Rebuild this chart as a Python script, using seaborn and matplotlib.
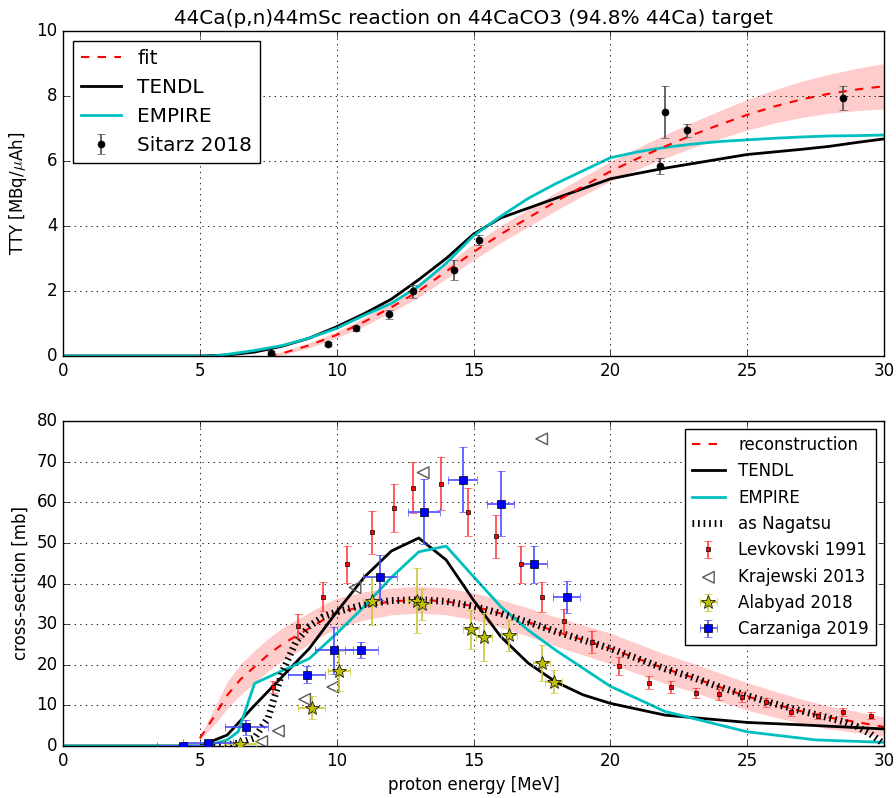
import matplotlib
matplotlib.use("Agg")
import matplotlib.pyplot as plt
import seaborn as sns

# ---------------- top panel data (thick target yield) ----------------
fit_E = [7.5, 8, 9, 10, 11, 12, 13, 14, 15, 16, 17, 18, 19, 20, 21, 22, 23, 24, 25, 26, 27, 28, 29, 30]
fit_tty = [0.0, 0.08, 0.33, 0.65, 1.05, 1.5, 2.0, 2.6, 3.2, 3.75, 4.25, 4.75, 5.22, 5.68,
           6.08, 6.45, 6.8, 7.12, 7.42, 7.68, 7.9, 8.07, 8.2, 8.3]
fit_hw = [0.03, 0.05, 0.08, 0.1, 0.13, 0.16, 0.19, 0.22, 0.25, 0.26, 0.27, 0.28, 0.29, 0.3,
          0.33, 0.36, 0.39, 0.43, 0.47, 0.51, 0.56, 0.6, 0.65, 0.7]

tendl_top_E = [0, 5, 6, 7, 8, 9, 10, 11, 12, 13, 14, 15, 16, 17, 18, 19, 20, 21, 22, 23, 24, 25, 26, 27, 28, 29, 30]
tendl_top = [0, 0, 0.03, 0.12, 0.3, 0.55, 0.9, 1.3, 1.75, 2.35, 3.0, 3.75, 4.25, 4.55, 4.85,
             5.15, 5.45, 5.62, 5.78, 5.92, 6.06, 6.2, 6.28, 6.36, 6.45, 6.57, 6.68]

empire_top_E = [0, 5, 5.5, 6, 7, 8, 9, 10, 11, 12, 13, 14, 15, 16, 17, 18, 19, 20, 21, 22, 23, 24, 25, 26, 27, 28, 29, 30]
empire_top = [0, 0, 0.0, 0.05, 0.17, 0.32, 0.55, 0.85, 1.25, 1.62, 2.15, 2.85, 3.7, 4.3, 4.85,
              5.3, 5.7, 6.1, 6.28, 6.42, 6.52, 6.6, 6.65, 6.7, 6.74, 6.77, 6.78, 6.8]

sitarz_E = [7.6, 9.7, 10.7, 11.9, 12.8, 14.3, 15.2, 21.8, 22.0, 22.8, 28.5]
sitarz_tty = [0.1, 0.37, 0.85, 1.28, 2.0, 2.65, 3.57, 5.85, 7.5, 6.95, 7.95]
sitarz_err = [0.05, 0.05, 0.08, 0.15, 0.2, 0.3, 0.15, 0.25, 0.8, 0.2, 0.37]

# ---------------- bottom panel data (cross-section) ----------------
rec_E = [5, 5.5, 6, 6.5, 7, 7.5, 8, 8.5, 9, 9.5, 10, 11, 12, 13, 14, 15, 16, 17, 18, 19, 20,
         21, 22, 23, 24, 25, 26, 27, 28, 29, 30]
rec_xs = [1.9, 7, 12.5, 16.5, 19.5, 22.5, 25, 27, 29, 31, 32.7, 34.5, 35.6, 36, 35.6, 34.4,
          32.6, 30.5, 28.2, 26.1, 24, 21.5, 19, 16.9, 14.5, 12.2, 10.3, 8.5, 7.0, 5.9, 4.7]
rec_hw = [0.3, 2.0, 3.3, 3.8, 4.0, 4.0, 4.0, 4.0, 3.9, 3.8, 3.7, 3.5, 3.3, 3.3, 3.3, 3.3, 3.4,
          3.5, 3.6, 3.7, 3.8, 3.7, 3.6, 3.5, 3.5, 3.4, 3.2, 3.0, 2.8, 2.6, 2.4]

tendl_E = [0, 5, 6, 7, 8, 9, 10, 11, 12, 13, 14, 15, 16, 17, 18, 19, 20, 22, 25, 27, 30]
tendl_xs = [0, 0, 2.7, 10, 17, 24, 33, 41.5, 48, 51.2, 45.8, 35.9, 26.9, 20.4, 15.8, 12.6,
            10.5, 7.6, 5.8, 5.2, 4.2]

empire_E = [0, 5.2, 6, 6.4, 7, 8, 9, 10, 11, 12, 13, 14, 15, 16, 17, 18, 20, 22, 25, 27.5, 30]
empire_xs = [0, 0, 1.5, 3.5, 15.4, 18.5, 21.5, 27.7, 34.3, 41.5, 47.8, 49.2, 41.7, 34.3, 28.5,
             23.6, 14.7, 8.5, 3.5, 1.5, 0.9]

nag_E = [5.5, 6, 6.5, 7, 7.5, 8, 8.5, 9, 9.5, 10, 11, 12, 13, 14, 15, 16, 17, 18, 19, 20, 21,
         22, 23, 24, 25, 26, 27, 28, 28.5, 29, 29.5, 30]
nag_xs = [0, 0.3, 0.8, 2.0, 7, 18, 25.5, 29.5, 31.8, 33, 34.8, 35.8, 36, 35.6, 34.4, 32.6,
          30.5, 28.2, 26.1, 24, 21.5, 19, 16.9, 14.5, 12.4, 10.4, 8.6, 6.9, 6.0, 4.8, 3.0, 0.5]

lev_E = [7.68, 8.6, 9.49, 10.39, 11.3, 12.09, 12.79, 13.81, 14.79, 15.81, 16.72, 17.51, 18.32,
         19.32, 20.33, 21.41, 22.2, 23.12, 23.97, 24.8, 25.69, 26.6, 27.6, 28.5, 29.52]
lev_xs = [14.5, 29.6, 36.8, 44.7, 52.6, 58.7, 63.6, 64.6, 57.7, 51.6, 44.7, 36.6, 30.8, 25.5,
          19.8, 15.6, 14.6, 13.0, 12.7, 12.1, 10.8, 8.4, 7.4, 8.4, 7.5]
lev_err = [1.5, 3.0, 3.6, 4.5, 5.3, 5.9, 6.3, 6.5, 5.9, 5.2, 4.5, 3.7, 3.0, 2.7, 2.2, 1.6, 1.5,
           1.3, 1.3, 1.2, 1.1, 0.9, 0.8, 0.9, 0.8]

kra_E = [7.26, 7.87, 8.83, 9.86, 10.67, 13.16, 17.49]
kra_xs = [1.1, 3.7, 11.5, 14.5, 39.0, 67.3, 75.6]

ala_E = [6.47, 9.09, 10.1, 11.28, 12.92, 13.1, 14.9, 15.38, 16.3, 17.49, 17.93]
ala_xs = [0.6, 9.4, 18.5, 35.6, 35.8, 34.9, 28.7, 26.8, 27.3, 20.4, 15.8]
ala_yerr = [0.5, 2.8, 5.0, 5.9, 7.9, 3.8, 4.8, 5.9, 3.8, 4.5, 2.8]
ala_xerr = [0.6, 0.49, 0.4, 0.3, 0.3, 0.3, 0.3, 0.3, 0.3, 0.3, 0.3]

car_E = [4.4, 5.3, 6.7, 8.9, 9.9, 10.9, 11.6, 13.2, 14.6, 16.0, 17.2, 18.4]
car_xs = [0.1, 0.7, 4.6, 17.6, 23.6, 23.6, 41.5, 57.7, 65.5, 59.6, 44.7, 36.6]
car_yerr = [0.3, 0.4, 1.8, 2.0, 5.8, 1.9, 5.5, 8.0, 8.0, 8.0, 4.5, 3.9]
car_xerr = [0.95, 0.9, 0.78, 0.67, 0.7, 0.6, 0.62, 0.58, 0.52, 0.49, 0.49, 0.49]

x_ticks = [0, 5, 10, 15, 20, 25, 30]
top_yticks = [0, 2, 4, 6, 8, 10]
bot_yticks = [0, 10, 20, 30, 40, 50, 60, 70, 80]

# ---------------- style ----------------
plt.style.use("classic")
plt.rcParams["lines.scale_dashes"] = False
plt.rcParams["font.family"] = ["DejaVu Sans"]

fig = plt.figure(figsize=(8.96, 7.98), dpi=100, facecolor="white")
ax1 = fig.add_axes([63 / 896, 1 - 356 / 798, 821 / 896, 325 / 798])
ax2 = fig.add_axes([63 / 896, 1 - 746 / 798, 821 / 896, 325 / 798])

# ---------------- top panel ----------------
lo = [f - h for f, h in zip(fit_tty, fit_hw)]
hi = [f + h for f, h in zip(fit_tty, fit_hw)]
ax1.fill_between(fit_E, lo, hi, color="r", alpha=0.2, lw=0, zorder=1)
sns.lineplot(x=fit_E, y=fit_tty, ax=ax1, color="r", linestyle="--", lw=1.5,
             estimator=None, zorder=3)
sns.lineplot(x=tendl_top_E, y=tendl_top, ax=ax1, color="k", lw=2, estimator=None, zorder=2)
sns.lineplot(x=empire_top_E, y=empire_top, ax=ax1, color="c", lw=2, estimator=None, zorder=2)
l_fit, l_tendl, l_emp = ax1.lines[0], ax1.lines[1], ax1.lines[2]
eb_sit = ax1.errorbar(sitarz_E, sitarz_tty, yerr=sitarz_err, fmt="o", color="k", ms=5,
                      ecolor="0.3", capsize=3, elinewidth=1.2, zorder=4)
ax1.legend([l_fit, l_tendl, l_emp, eb_sit], ["fit", "TENDL", "EMPIRE", "Sitarz 2018"],
           loc="upper left", numpoints=1, fontsize=14.4, framealpha=1)

ax1.set_xlim(0, 30)
ax1.set_ylim(0, 10)
ax1.set_xticks(x_ticks)
ax1.set_yticks(top_yticks)
ax1.set_ylabel("TTY [MBq/$\\mu$Ah]", size=12)
ax1.set_xlabel("")
ax1.set_title("44Ca(p,n)44mSc reaction on 44CaCO3 (94.8% 44Ca) target", size=14.4, pad=5)

# ---------------- bottom panel ----------------
rlo = [f - h for f, h in zip(rec_xs, rec_hw)]
rhi = [f + h for f, h in zip(rec_xs, rec_hw)]
ax2.fill_between(rec_E, rlo, rhi, color="r", alpha=0.2, lw=0, zorder=1)
sns.lineplot(x=rec_E, y=rec_xs, ax=ax2, color="r", linestyle="--", lw=1.5,
             estimator=None, zorder=2)
sns.lineplot(x=tendl_E, y=tendl_xs, ax=ax2, color="k", lw=2, estimator=None, zorder=2)
sns.lineplot(x=empire_E, y=empire_xs, ax=ax2, color="c", lw=2, estimator=None, zorder=2)
sns.lineplot(x=nag_E, y=nag_xs, ax=ax2, color="k", lw=5, linestyle=(0, (1.2, 2.8)),
             estimator=None, zorder=3)
b_rec, b_tendl, b_emp, b_nag = ax2.lines[0], ax2.lines[1], ax2.lines[2], ax2.lines[3]

eb_lev = ax2.errorbar(lev_E, lev_xs, yerr=lev_err, fmt="s", color="r", mec="k", mew=0.5,
                      ms=3.5, ecolor=(1, 0.25, 0.25), capsize=3, elinewidth=1.2, zorder=5)
kra = ax2.scatter(kra_E, kra_xs, marker="<", s=70, facecolors="none", edgecolors="0.35",
                  linewidths=1, zorder=5)
eb_ala = ax2.errorbar(ala_E, ala_xs, yerr=ala_yerr, xerr=ala_xerr, fmt="*", color="y",
                      mec="k", mew=0.5, ms=10, ecolor=(0.78, 0.78, 0.2), capsize=3,
                      elinewidth=1.2, zorder=5)
eb_car = ax2.errorbar(car_E, car_xs, yerr=car_yerr, xerr=car_xerr, fmt="s", color="b",
                      mec="k", mew=0.5, ms=6, ecolor=(0.3, 0.3, 1), capsize=3,
                      elinewidth=1.2, zorder=5)

ax2.legend([b_rec, b_tendl, b_emp, b_nag, eb_lev, kra, eb_ala, eb_car],
           ["reconstruction", "TENDL", "EMPIRE", "as Nagatsu", "Levkovski 1991",
            "Krajewski 2013", "Alabyad 2018", "Carzaniga 2019"],
           loc="upper right", numpoints=1, scatterpoints=1, fontsize=12, framealpha=1)

ax2.set_xlim(0, 30)
ax2.set_ylim(0, 80)
ax2.set_xticks(x_ticks)
ax2.set_yticks(bot_yticks)
ax2.set_xlabel("proton energy [MeV]", size=12)
ax2.set_ylabel("cross-section [mb]", size=12)

for ax in (ax1, ax2):
    ax.grid(True, color="k", linestyle=":", linewidth=0.6)
    ax.tick_params(which="both", direction="in", top=True, right=True, labelsize=12)
    ax.set_axisbelow(False)

fig.savefig("out.png", dpi=100, facecolor="white")
